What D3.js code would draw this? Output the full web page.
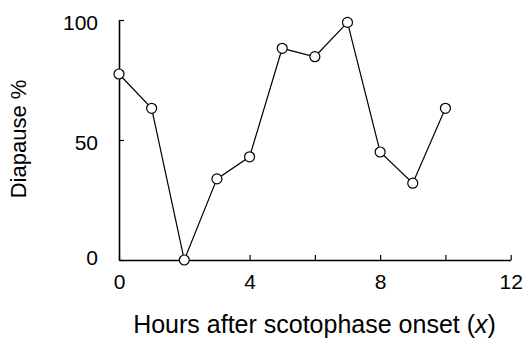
<!DOCTYPE html>
<html><head><meta charset="utf-8">
<script src="https://cdn.jsdelivr.net/npm/d3@7"></script>
<style>body{margin:0;background:#fff}svg{display:block}text{font-family:"Liberation Sans",Arial,sans-serif;fill:#000}</style>
</head><body><svg id="c" width="523" height="341"></svg>
<script>
const hours = [0,1,2,3,4,5,6,7,8,9,10];
const diapause = [77.5,63.2,0,33.8,43,88.2,84.7,99,45,32,63.2];
const xTicks = [0,2,4,6,8,10,12];
const xTickLabels = [0,4,8,12];
const yTicks = [0,50,100];

const svg = d3.select("#c");
const x = d3.scaleLinear().domain([0,12]).range([119,510.7]);
const y = d3.scaleLinear().domain([0,100]).range([260,20]);
const FONT = '"Liberation Sans",Arial,sans-serif';

const xAxis = d3.axisBottom(x).tickValues(xTicks).tickSizeInner(-5).tickSizeOuter(0)
  .tickFormat(d => xTickLabels.includes(d) ? d : "");
const gx = svg.append("g").attr("transform",`translate(0,${y(0)})`).call(xAxis);
gx.select(".domain").attr("stroke","#000").attr("stroke-width",1.6);
gx.selectAll(".tick line").attr("stroke","#000").attr("stroke-width",1.2);
gx.selectAll(".tick text").attr("font-size",21).attr("y",29).attr("dy","0")
  .style("font-family",FONT);

const yAxis = d3.axisLeft(y).tickValues(yTicks).tickSizeInner(-5).tickSizeOuter(0);
const gy = svg.append("g").attr("transform",`translate(${x(0)},0)`).call(yAxis);
gy.select(".domain").attr("stroke","#000").attr("stroke-width",1.6);
gy.selectAll(".tick line").attr("stroke","#000").attr("stroke-width",1.2);
gy.selectAll(".tick text").attr("font-size",21).attr("x",-21)
  .attr("dy", d => d === 0 ? "0.2em" : "0.45em")
  .style("font-family",FONT);

const line = d3.line().x((d,i)=>x(hours[i])).y(d=>y(d));
svg.append("path").datum(diapause).attr("d",line).attr("fill","none").attr("stroke","#000").attr("stroke-width",1.2);
svg.append("g").selectAll("circle").data(diapause).join("circle")
  .attr("cx",(d,i)=>x(hours[i])).attr("cy",d=>y(d)).attr("r",5)
  .attr("fill","#fff").attr("stroke","#000").attr("stroke-width",1.2);

const xt = svg.append("text").attr("x",314.5).attr("y",333).attr("text-anchor","middle").attr("font-size",25);
xt.append("tspan").text("Hours after scotophase onset (");
xt.append("tspan").attr("font-style","italic").text("x");
xt.append("tspan").text(")");

svg.append("text").attr("transform","translate(26,139) rotate(-90)").attr("text-anchor","middle")
  .attr("font-size",22).text("Diapause %");
</script></body></html>
